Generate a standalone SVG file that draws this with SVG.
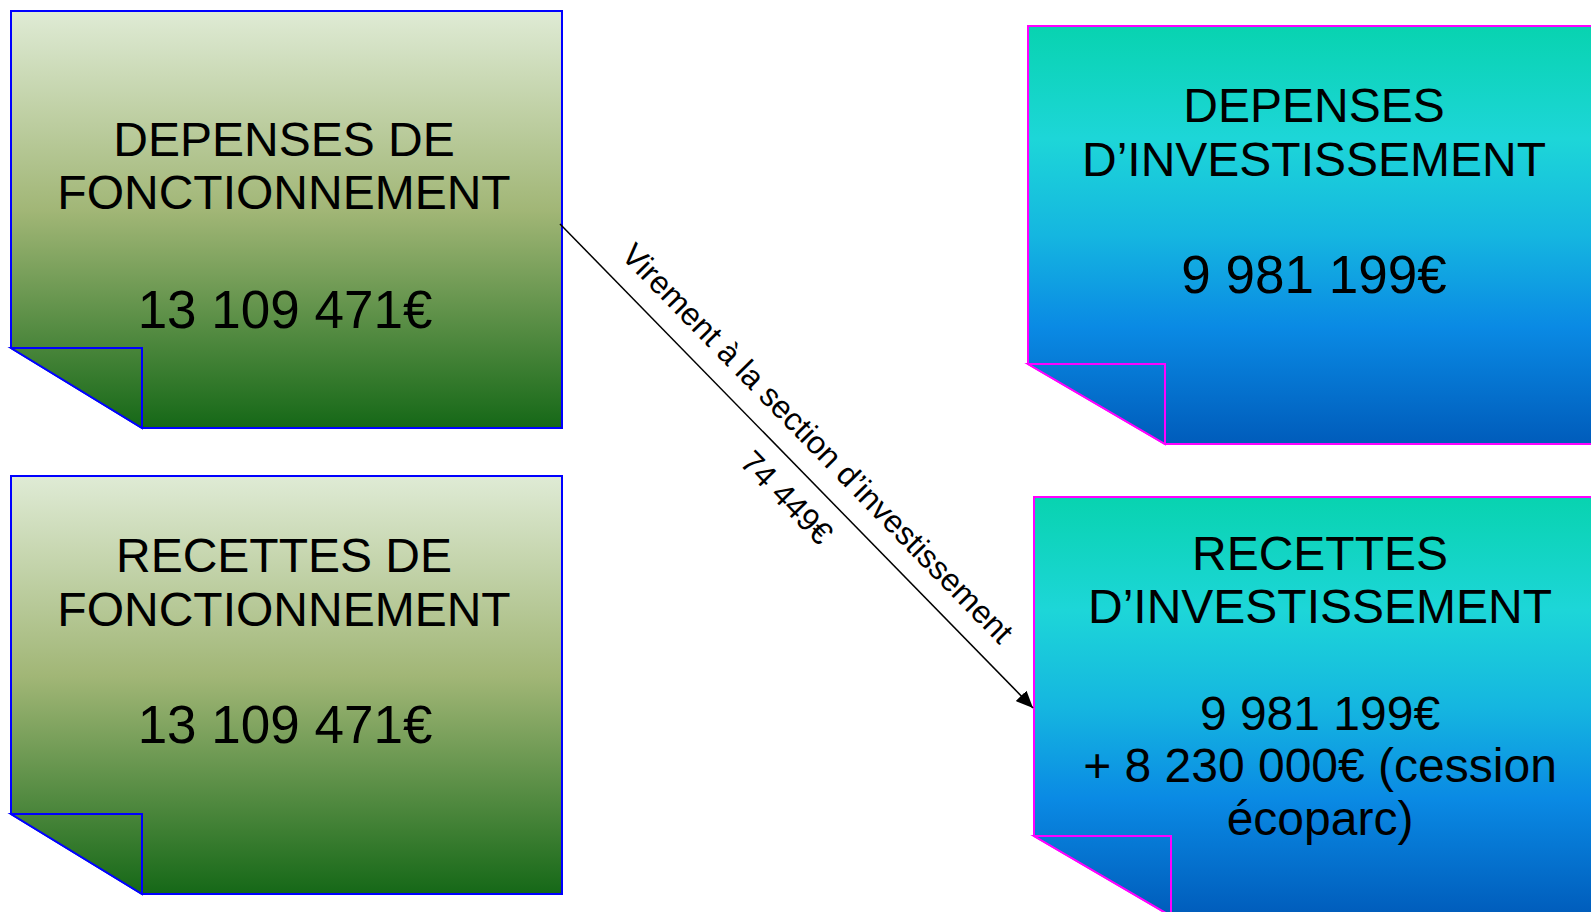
<svg xmlns="http://www.w3.org/2000/svg" width="1591" height="912" viewBox="0 0 1591 912">
<style>
  .lbl { font-family: "Liberation Sans", Arial, sans-serif; font-size: 48px; fill: #000; text-anchor: middle; }
  .num { font-size: 53px; }
  .edge { font-family: "Liberation Sans", Arial, sans-serif; font-size: 32px; fill: #000; text-anchor: middle; }
  .green { stroke: #0000ff; stroke-width: 2; }
  .blue { stroke: #ff00ff; stroke-width: 2; }
  .conn { stroke: #000; stroke-width: 1.5; fill: none; }
</style>
<defs>
  <linearGradient id="gGreen" x1="0" y1="0" x2="0" y2="1">
    <stop offset="0" stop-color="#dfebd5"/>
    <stop offset="0.48" stop-color="#a1b676"/>
    <stop offset="1" stop-color="#156817"/>
  </linearGradient>
  <linearGradient id="gGreen1" href="#gGreen" gradientUnits="userSpaceOnUse" x1="0" y1="11" x2="0" y2="428"/>
  <linearGradient id="gGreen2" href="#gGreen" gradientUnits="userSpaceOnUse" x1="0" y1="476" x2="0" y2="894"/>
  <linearGradient id="gBlue" x1="0" y1="0" x2="0" y2="1">
    <stop offset="0" stop-color="#08d3b0"/>
    <stop offset="0.27" stop-color="#1dd6d8"/>
    <stop offset="0.5" stop-color="#15b6e0"/>
    <stop offset="0.72" stop-color="#0a8ae4"/>
    <stop offset="1" stop-color="#005cbb"/>
  </linearGradient>
  <linearGradient id="gBlue3" href="#gBlue" gradientUnits="userSpaceOnUse" x1="0" y1="26" x2="0" y2="444"/>
  <linearGradient id="gBlue4" href="#gBlue" gradientUnits="userSpaceOnUse" x1="0" y1="497" x2="0" y2="916"/>
  <marker id="arrow" markerUnits="userSpaceOnUse" markerWidth="18" markerHeight="16" refX="17" refY="7.5" orient="auto">
    <path d="M0,0 L17,7.5 L0,15 z" fill="#000"/>
  </marker>
</defs>
<rect width="1591" height="912" fill="#fff"/>

<g id="depenses-fonctionnement">
  <polygon class="green" fill="url(#gGreen1)" points="11,11 562,11 562,428 142,428 11,348"/>
  <polygon class="green" fill="url(#gGreen1)" points="11,348 142,348 142,428"/>
  <text class="lbl" x="284" y="156">DEPENSES DE</text>
  <text class="lbl" x="284" y="209">FONCTIONNEMENT</text>
  <text class="lbl num" x="285" y="328">13 109 471€</text>
</g>

<g id="recettes-fonctionnement">
  <polygon class="green" fill="url(#gGreen2)" points="11,476 562,476 562,894 142,894 11,814"/>
  <polygon class="green" fill="url(#gGreen2)" points="11,814 142,814 142,894"/>
  <text class="lbl" x="284" y="572">RECETTES DE</text>
  <text class="lbl" x="284" y="626">FONCTIONNEMENT</text>
  <text class="lbl num" x="285" y="743">13 109 471€</text>
</g>

<g id="depenses-investissement">
  <polygon class="blue" fill="url(#gBlue3)" points="1028,26 1600,26 1600,444 1165,444 1028,364"/>
  <polygon class="blue" fill="url(#gBlue3)" points="1028,364 1165,364 1165,444"/>
  <text class="lbl" x="1314" y="122">DEPENSES</text>
  <text class="lbl" x="1314" y="176">D’INVESTISSEMENT</text>
  <text class="lbl num" x="1314" y="293">9 981 199€</text>
</g>

<g id="recettes-investissement">
  <polygon class="blue" fill="url(#gBlue4)" points="1034,497 1600,497 1600,916 1171,916 1034,836"/>
  <polygon class="blue" fill="url(#gBlue4)" points="1034,836 1171,836 1171,916"/>
  <text class="lbl" x="1320" y="570">RECETTES</text>
  <text class="lbl" x="1320" y="623">D’INVESTISSEMENT</text>
  <text class="lbl" x="1320" y="730">9 981 199€</text>
  <text class="lbl" x="1320" y="782">+ 8 230 000€ (cession</text>
  <text class="lbl" x="1320" y="835">écoparc)</text>
</g>

<g id="connectors">
  <path class="conn" d="M560,224 L1033,708" marker-end="url(#arrow)"/>
  <g transform="translate(560,224) rotate(45.66)">
    <text class="edge" x="337" y="-20">Virement à la section d’investissement</text>
    <text class="edge" x="354" y="40">74 449€</text>
  </g>
</g>
</svg>
